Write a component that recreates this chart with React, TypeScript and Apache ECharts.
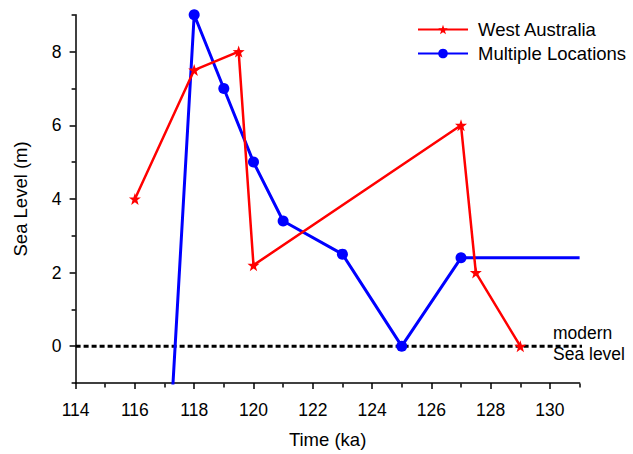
import React, { useEffect, useRef } from "react";
import * as echarts from "echarts";

const westAustralia: [number, number][] = [
  [116, 4], [118, 7.5], [119.5, 8], [120, 2.2], [127, 6], [127.5, 2], [129, 0],
];
const multipleLocations: [number, number][] = [
  [117, -5], [118, 9], [119, 7], [120, 5], [121, 3.4], [123, 2.5], [125, 0], [127, 2.4], [131, 2.4],
];
const modernSeaLevel: [number, number][] = [[114, 0], [131.35, 0]];
const xMajor = [114, 116, 118, 120, 122, 124, 126, 128, 130];
const xMinor = [115, 117, 119, 121, 123, 125, 127, 129, 131];
const yMajor = [0, 2, 4, 6, 8];
const yMinor = [-1, 1, 3, 5, 7, 9];

const FONT = "Liberation Sans, Arial, Helvetica, sans-serif";
const STAR =
  "path://M0,-10 L2.35,-3.24 L9.51,-3.09 L3.8,1.24 L5.88,8.09 L0,4 L-5.88,8.09 L-3.8,1.24 L-9.51,-3.09 L-2.35,-3.24 Z";

const GRID = { left: 75.6, right: 53.4, top: 14.8, bottom: 70.5 };
const W = 633;
const H = 454;

export default function App() {
  const ref = useRef<HTMLDivElement>(null);
  useEffect(() => {
    if (!ref.current) return;
    const chart = echarts.init(ref.current, null, { renderer: "svg" });
    const gridW = W - GRID.left - GRID.right;
    const gridH = H - GRID.top - GRID.bottom;
    const axisLine = { show: true, onZero: false, lineStyle: { color: "#000", width: 1.5 } };
    const tickStyle = { color: "#000", width: 1.5 };
    chart.setOption({
      animation: false,
      textStyle: { fontFamily: FONT },
      grid: { ...GRID, containLabel: false },
      legend: {
        orient: "vertical",
        left: 417,
        top: 20,
        padding: 0,
        itemWidth: 50,
        itemHeight: 12,
        itemGap: 5,
        data: ["West Australia", "Multiple Locations"],
        textStyle: { fontSize: 18.5, color: "#000", fontFamily: FONT, padding: [0, 0, 0, 5] },
      },
      xAxis: [
        {
          type: "value",
          min: 114,
          max: 131,
          position: "bottom",
          name: "Time (ka)",
          nameLocation: "middle",
          nameGap: 47,
          nameTextStyle: { fontSize: 18.5, color: "#000", fontFamily: FONT },
          axisLine,
          splitLine: { show: false },
          axisTick: { show: true, customValues: xMajor, length: 6, lineStyle: tickStyle },
          axisLabel: { show: true, customValues: xMajor, fontSize: 17.5, color: "#000", margin: 18, fontFamily: FONT },
        },
        {
          type: "value",
          min: 114,
          max: 131,
          position: "top",
          offset: -gridH,
          axisLine: { show: false, onZero: false },
          splitLine: { show: false },
          axisTick: { show: true, inside: true, customValues: xMinor, length: 4, lineStyle: tickStyle },
          axisLabel: { show: false },
        },
      ],
      yAxis: [
        {
          type: "value",
          min: -1,
          max: 9,
          position: "left",
          name: "Sea Level (m)",
          nameLocation: "middle",
          nameGap: 46,
          nameRotate: 90,
          nameTextStyle: { fontSize: 18.5, color: "#000", fontFamily: FONT },
          axisLine,
          splitLine: { show: false },
          axisTick: { show: true, customValues: yMajor, length: 6, lineStyle: tickStyle },
          axisLabel: { show: true, customValues: yMajor, fontSize: 17.5, color: "#000", margin: 14, fontFamily: FONT },
        },
        {
          type: "value",
          min: -1,
          max: 9,
          position: "right",
          offset: -gridW,
          axisLine: { show: false, onZero: false },
          splitLine: { show: false },
          axisTick: { show: true, inside: true, customValues: yMinor, length: 4, lineStyle: tickStyle },
          axisLabel: { show: false },
        },
      ],
      series: [
        {
          name: "modern sea level",
          type: "line",
          data: modernSeaLevel,
          clip: false,
          symbol: "none",
          silent: true,
          lineStyle: { color: "#000", width: 3, type: [5, 3] },
          z: 1,
        },
        {
          name: "Multiple Locations",
          type: "line",
          data: multipleLocations.map((p, i) => ({
            value: p,
            symbol: i === 0 || i === multipleLocations.length - 1 ? "none" : "circle",
          })),
          clip: true,
          symbol: "circle",
          symbolSize: 11,
          itemStyle: { color: "#0000ff" },
          lineStyle: { color: "#0000ff", width: 3 },
          z: 2,
        },
        {
          name: "West Australia",
          type: "line",
          data: westAustralia,
          clip: true,
          symbol: STAR,
          symbolSize: 12,
          itemStyle: { color: "#ff0000" },
          lineStyle: { color: "#ff0000", width: 2.5 },
          z: 3,
        },
      ],
      graphic: [
        {
          type: "text",
          left: 553,
          top: 324,
          style: { text: "modern", fontSize: 17.5, fill: "#000", fontFamily: FONT },
        },
        {
          type: "text",
          left: 553,
          top: 345,
          style: { text: "Sea level", fontSize: 17.5, fill: "#000", fontFamily: FONT },
        },
      ],
    });
    return () => chart.dispose();
  }, []);
  return (
    <div
      ref={ref}
      style={{ position: "fixed", left: 0, top: 0, width: W, height: H, background: "#fff" }}
    />
  );
}
